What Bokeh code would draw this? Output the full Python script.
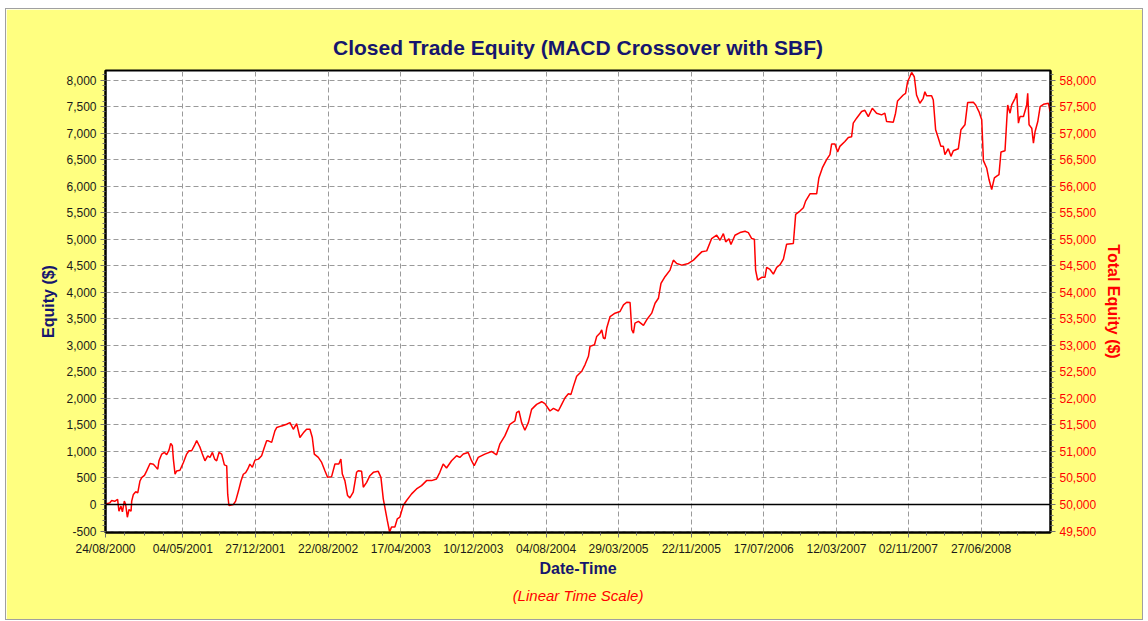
from datetime import datetime, timedelta
from bokeh.plotting import figure
from bokeh.models import (Range1d, LinearAxis, SingleIntervalTicker, NumeralTickFormatter,
                          FixedTicker, DatetimeTickFormatter, Span, Title)
from bokeh.embed import file_html
from bokeh.resources import INLINE

# ---- data ----
years = [
    2000.646, 2000.682, 2000.700, 2000.727, 2000.753, 2000.765, 2000.783, 2000.796, 2000.813, 2000.825,
    2000.840, 2000.855, 2000.873, 2000.879, 2000.894, 2000.915, 2000.933, 2000.953, 2000.968, 2000.993,
    2001.013, 2001.043, 2001.073, 2001.094, 2001.112, 2001.123, 2001.148, 2001.172, 2001.192, 2001.213,
    2001.228, 2001.243, 2001.252, 2001.267, 2001.282, 2001.311, 2001.342, 2001.371, 2001.392, 2001.416,
    2001.440, 2001.461, 2001.476, 2001.491, 2001.512, 2001.535, 2001.560, 2001.580, 2001.602, 2001.622,
    2001.640, 2001.661, 2001.685, 2001.709, 2001.730, 2001.739, 2001.750, 2001.790, 2001.810, 2001.835,
    2001.858, 2001.879, 2001.900, 2001.918, 2001.938, 2001.960, 2001.983, 2002.014, 2002.043, 2002.067,
    2002.088, 2002.103, 2002.133, 2002.162, 2002.178, 2002.222, 2002.267, 2002.297, 2002.327, 2002.357,
    2002.386, 2002.417, 2002.446, 2002.476, 2002.497, 2002.515, 2002.551, 2002.581, 2002.610, 2002.634,
    2002.670, 2002.700, 2002.735, 2002.753, 2002.766, 2002.789, 2002.813, 2002.834, 2002.864, 2002.894,
    2002.909, 2002.939, 2002.954, 2002.984, 2003.013, 2003.044, 2003.088, 2003.112, 2003.133, 2003.147,
    2003.169, 2003.190, 2003.207, 2003.237, 2003.259, 2003.282, 2003.312, 2003.342, 2003.387, 2003.431,
    2003.476, 2003.521, 2003.566, 2003.610, 2003.640, 2003.670, 2003.700, 2003.745, 2003.790, 2003.819,
    2003.850, 2003.894, 2003.924, 2003.948, 2003.984, 2004.043, 2004.103, 2004.148, 2004.177, 2004.222,
    2004.267, 2004.312, 2004.327, 2004.348, 2004.372, 2004.401, 2004.432, 2004.461, 2004.506, 2004.551,
    2004.580, 2004.625, 2004.656, 2004.700, 2004.730, 2004.760, 2004.790, 2004.813, 2004.835, 2004.864,
    2004.909, 2004.939, 2004.969, 2004.983, 2005.023, 2005.043, 2005.073, 2005.088, 2005.103, 2005.118,
    2005.133, 2005.163, 2005.207, 2005.252, 2005.283, 2005.312, 2005.342, 2005.357, 2005.372, 2005.386,
    2005.417, 2005.462, 2005.491, 2005.536, 2005.566, 2005.596, 2005.619, 2005.655, 2005.700, 2005.730,
    2005.760, 2005.805, 2005.865, 2005.910, 2005.954, 2005.984, 2006.029, 2006.073, 2006.118, 2006.148,
    2006.178, 2006.199, 2006.228, 2006.246, 2006.282, 2006.327, 2006.372, 2006.402, 2006.432, 2006.456,
    2006.467, 2006.485, 2006.521, 2006.551, 2006.566, 2006.596, 2006.626, 2006.656, 2006.685, 2006.716,
    2006.745, 2006.805, 2006.826, 2006.864, 2006.895, 2006.915, 2006.954, 2007.014, 2007.034, 2007.065,
    2007.103, 2007.133, 2007.148, 2007.178, 2007.202, 2007.222, 2007.267, 2007.298, 2007.327, 2007.342,
    2007.372, 2007.417, 2007.446, 2007.477, 2007.513, 2007.551, 2007.596, 2007.625, 2007.641, 2007.701,
    2007.721, 2007.739, 2007.790, 2007.811, 2007.829, 2007.849, 2007.865, 2007.889, 2007.909, 2007.939,
    2007.969, 2007.984, 2007.999, 2008.044, 2008.059, 2008.080, 2008.104, 2008.127, 2008.149, 2008.163,
    2008.193, 2008.217, 2008.238, 2008.283, 2008.306, 2008.342, 2008.366, 2008.417, 2008.438, 2008.467,
    2008.492, 2008.507, 2008.536, 2008.557, 2008.581, 2008.605, 2008.626, 2008.646, 2008.664, 2008.700,
    2008.715, 2008.724, 2008.745, 2008.760, 2008.790, 2008.805, 2008.820, 2008.834, 2008.865, 2008.894,
    2008.903, 2008.915, 2008.939, 2008.954, 2008.969, 2008.993, 2009.014, 2009.044, 2009.089, 2009.103,
]
equity = [
    10, 30, 75, 60, 95, -127, -30, -140, 63, 0,
    -240, -95, -127, 63, 190, 240, 220, 443, 506, 550,
    633, 772, 760, 709, 665, 823, 950, 981, 940, 1025,
    1152, 1108, 855, 570, 633, 646, 791, 950, 1013, 1013,
    1108, 1203, 1140, 1076, 950, 823, 918, 886, 981, 855,
    823, 981, 950, 747, 728, 190, -19, 0, 63, 253,
    443, 570, 600, 665, 760, 700, 836, 855, 918, 1076,
    1203, 1200, 1170, 1387, 1450, 1481, 1512, 1543, 1418, 1525,
    1262, 1350, 1418, 1418, 1262, 950, 887, 793, 637, 512,
    525, 762, 762, 856, 575, 450, 168, 125, 231, 606,
    637, 625, 325, 418, 543, 606, 625, 512, 106, -50,
    -300, -519, -425, -425, -269, -237, -19, 75, 200, 293,
    356, 450, 450, 481, 606, 762, 687, 825, 918, 887,
    950, 981, 825, 731, 887, 950, 1000, 937, 1137, 1293,
    1512, 1575, 1731, 1762, 1543, 1400, 1543, 1793, 1887, 1937,
    1900, 1762, 1810, 1762, 1887, 2012, 2087, 2075, 2231, 2418,
    2512, 2637, 2793, 2981, 3012, 3168, 3231, 3293, 3137, 3125,
    3325, 3543, 3606, 3637, 3762, 3812, 3806, 3293, 3231, 3418,
    3450, 3375, 3481, 3606, 3793, 3887, 4168, 4293, 4418, 4606,
    4543, 4512, 4543, 4606, 4700, 4762, 4780, 5012, 5075, 4981,
    5106, 4950, 5010, 4900, 5075, 5125, 5150, 5125, 5012, 5000,
    4418, 4231, 4281, 4281, 4468, 4430, 4343, 4468, 4518, 4625,
    4906, 4918, 5468, 5531, 5593, 5718, 5856, 5856, 6156, 6343,
    6500, 6593, 6793, 6793, 6643, 6750, 6843, 6918, 6930, 7187,
    7281, 7406, 7430, 7312, 7468, 7375, 7343, 7375, 7218, 7206,
    7375, 7606, 7718, 7750, 7968, 8062, 8143, 8062, 7718, 7562,
    7656, 7781, 7706, 7706, 7625, 7062, 6906, 6750, 6750, 6593,
    6706, 6562, 6668, 6706, 7062, 7156, 7575, 7581, 7530, 7406,
    7250, 6481, 6343, 6125, 5937, 6156, 6190, 6218, 6643, 6668,
    7218, 7531, 7375, 7531, 7656, 7750, 7187, 7312, 7312, 7531,
    7750, 7156, 7093, 6812, 7031, 7218, 7500, 7543, 7562, 7406,
]
tick_labels = ["24/08/2000", "04/05/2001", "27/12/2001", "22/08/2002", "17/04/2003",
               "10/12/2003", "04/08/2004", "29/03/2005", "22/11/2005", "17/07/2006",
               "12/03/2007", "02/11/2007", "27/06/2008"]
x_start = "24/08/2000"
x_end = "09/02/2009"
y_left_range = (-528, 8180)
right_offset = 50000

EPOCH = datetime(1970, 1, 1)


def ms(dt):
    return (dt - EPOCH).total_seconds() * 1000.0


def dec_to_dt(y):
    yr = int(y)
    a = datetime(yr, 1, 1)
    b = datetime(yr + 1, 1, 1)
    return a + (b - a) * (y - yr)


def parse(s):
    return datetime.strptime(s, "%d/%m/%Y")


xs = [ms(dec_to_dt(y)) for y in years]
major = [ms(parse(s)) for s in tick_labels]
x0 = ms(parse(x_start))
x1 = ms(parse(x_end))

# minor ticks: 3 between majors
step = (major[-1] - major[1]) / (len(major) - 2)
minor = []
for a, b in zip(major[:-1], major[1:]):
    for k in range(1, 4):
        minor.append(a + (b - a) * k / 4)
t = major[-1] + step / 4
while t < x1:
    minor.append(t)
    t += step / 4

NAVY = "#16166e"
YELLOW = "#ffff80"
FONT = "Liberation Sans"

p = figure(width=1138, height=612, output_backend="svg", toolbar_location=None,
           x_axis_type="datetime",
           x_range=Range1d(x0, x1), y_range=Range1d(*y_left_range),
           min_border_left=99, min_border_right=94, min_border_top=61, min_border_bottom=89)
p.background_fill_color = "white"
p.border_fill_color = YELLOW
p.outline_line_color = "black"
p.outline_line_width = 2
p.styles = {"border": "1px solid #a0a0a0", "margin-left": "5px", "margin-top": "8px"}

p.title.text = "Closed Trade Equity (MACD Crossover with SBF)"
p.title.align = "center"
p.title.text_font = FONT
p.title.text_font_size = "21px"
p.title.text_font_style = "bold"
p.title.text_color = NAVY
p.title.standoff = 23

p.extra_y_ranges = {"right": Range1d(y_left_range[0] + right_offset, y_left_range[1] + right_offset)}

# axes styling
p.xaxis.ticker = FixedTicker(ticks=major, minor_ticks=minor)
p.xaxis.formatter = DatetimeTickFormatter(
    milliseconds="%d/%m/%Y", seconds="%d/%m/%Y", minsec="%d/%m/%Y", minutes="%d/%m/%Y",
    hourmin="%d/%m/%Y", hours="%d/%m/%Y", days="%d/%m/%Y", months="%d/%m/%Y", years="%d/%m/%Y")
p.xaxis.axis_label = "Date-Time"

p.yaxis.ticker = SingleIntervalTicker(interval=500, num_minor_ticks=5)
p.yaxis.formatter = NumeralTickFormatter(format="0,0")
p.yaxis.axis_label = "Equity ($)"

rax = LinearAxis(y_range_name="right", axis_label="Total Equity ($)",
                 ticker=SingleIntervalTicker(interval=500, num_minor_ticks=5),
                 formatter=NumeralTickFormatter(format="0,0"))
p.add_layout(rax, "right")

for ax in [p.xaxis[0], p.yaxis[0], rax]:
    ax.axis_line_color = "black"
    ax.axis_line_width = 2
    ax.major_tick_line_color = "#707070"
    ax.minor_tick_line_color = "#707070"
    ax.major_tick_out = 5
    ax.major_tick_in = 0
    ax.minor_tick_out = 3
    ax.minor_tick_in = 0
    ax.major_label_text_font = FONT
    ax.major_label_text_font_size = "12px"
    ax.major_label_text_color = "#1a1a1a"
    ax.major_label_standoff = 4
    ax.axis_label_text_font = FONT
    ax.axis_label_text_font_size = "16px"
    ax.axis_label_text_font_style = "bold"
    ax.axis_label_text_color = NAVY
    ax.axis_label_standoff = 6

p.xaxis[0].axis_label_standoff = 1
rax.major_label_text_color = "#ff0000"
rax.axis_label_text_color = "#ff0000"

p.xgrid.grid_line_color = "#9a9a9a"
p.ygrid.grid_line_color = "#9a9a9a"
p.xgrid.grid_line_dash = "5 3"
p.ygrid.grid_line_dash = "5 3"
p.xgrid.grid_line_width = 1
p.ygrid.grid_line_width = 1

p.add_layout(Span(location=0, dimension="width", line_color="black", line_width=1.5))

p.line(xs, equity, line_color="#ff0000", line_width=1.5)

sub = Title(text="(Linear Time Scale)", align="center", text_font=FONT, text_font_size="15px",
            text_font_style="italic", text_color="#ff0000")
p.add_layout(sub, "below")

open("out.html", "w").write(file_html(p, INLINE))
